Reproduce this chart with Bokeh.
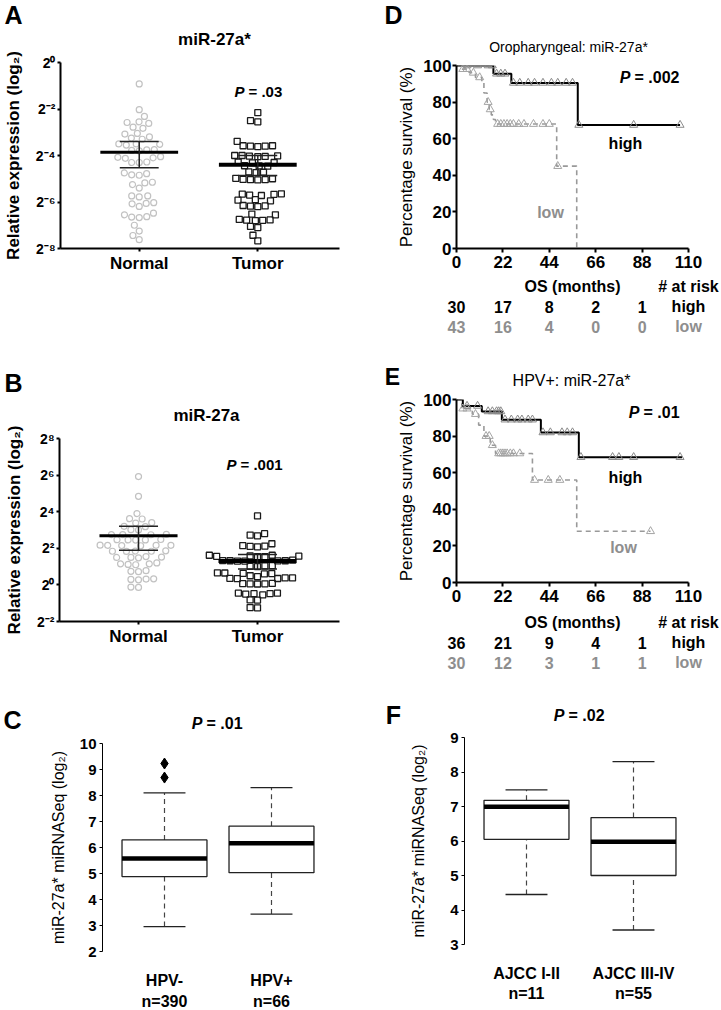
import math
from bokeh.plotting import figure
from bokeh.models import Range1d, FixedTicker, Label
from bokeh.layouts import row, column
from bokeh.embed import file_html
from bokeh.resources import INLINE

FONT = "Liberation Sans"
GRAY_PT = "#c2c2c2"
GRAY_TXT = "#8e8e8e"
GRAY_KM = "#999999"

# ---------------- data ----------------
groups_ab = ["Normal", "Tumor"]
ticks_a = [-8, -6, -4, -2, 0]
tick_labels_a = ["2⁻⁸", "2⁻⁶", "2⁻⁴", "2⁻²", "2⁰"]
normal_a = [-0.92, -2.03, -2.32, -2.55, -2.62, -2.58, -2.78, -2.83, -3.05, -3.08,
            -3.2, -3.25, -3.3, -3.5, -3.52, -3.55, -3.5, -3.75, -3.78, -3.8,
            -3.76, -4.05, -4.1, -4.08, -4.3, -4.12, -4.28, -4.3, -4.75, -4.85,
            -4.83, -4.78, -5.15, -5.25, -5.18, -5.4, -5.74, -5.78, -5.74, -6.03,
            -6.08, -6.06, -6.19, -6.48, -6.55, -6.65, -6.63, -6.67, -7.0, -7.25,
            -7.44, -7.62]
tumor_a = [-2.16, -2.5, -2.55, -3.39, -3.58, -3.6, -3.62, -3.6, -3.58, -4.0,
           -4.03, -4.05, -4.02, -4.04, -4.0, -4.28, -4.3, -4.32, -4.45, -4.46,
           -4.44, -4.7, -4.72, -4.74, -5.0, -5.04, -5.05, -5.04, -5.03, -4.98,
           -5.65, -5.67, -5.7, -5.72, -5.66, -5.92, -5.95, -5.9, -6.15, -6.18,
           -6.17, -6.2, -6.52, -6.55, -6.75, -6.78, -6.8, -6.77, -6.79, -7.05,
           -7.1, -7.43, -7.67]
mean_a = [-3.86, -4.40]
sem_hi_a = [-3.40, -4.00]
sem_lo_a = [-4.53, -4.86]

ticks_b = [-2, 0, 2, 4, 6, 8]
tick_labels_b = ["2⁻²", "2⁰", "2²", "2⁴", "2⁶", "2⁸"]
normal_b = [5.92, 4.84, 3.9, 3.62, 3.6, 3.4, 3.38, 3.2, 3.18, 3.0,
            3.02, 2.75, 2.76, 2.74, 2.75, 2.46, 2.48, 2.45, 2.47, 2.46,
            2.16, 2.15, 2.17, 2.16, 2.14, 2.16, 1.84, 1.85, 1.83, 1.84,
            1.86, 1.5, 1.52, 1.48, 1.5, 1.55, 1.15, 1.1, 1.2, 1.12,
            1.15, 0.74, 0.78, 0.72, 0.32, 0.28, 0.3, 0.33, -0.12, -0.14]
tumor_b = [3.77, 2.8, 2.68, 2.72, 2.15, 2.1, 2.08, 2.12, 2.25, 1.62,
           1.58, 1.55, 1.57, 1.56, 1.55, 1.62, 1.35, 1.32, 1.3, 1.33,
           1.31, 1.32, 1.3, 1.05, 1.02, 1.04, 1.0, 0.65, 0.6, 0.62,
           0.63, 0.66, 0.45, 0.38, 0.36, 0.34, 0.35, 0.38, 0.5, 0.06,
           0.07, 0.05, 0.08, 0.06, -0.45, -0.48, -0.48, -0.55, -0.5, -0.45,
           -0.83, -0.82, -1.25, -1.24]
mean_b = [2.69, 1.30]
sem_hi_b = [3.20, 1.66]
sem_lo_b = [1.89, 0.87]

groups_c = ["HPV-", "HPV+"]
n_c = ["n=390", "n=66"]
q1_c = [4.88, 5.03]
med_c = [5.58, 6.16]
q3_c = [6.29, 6.82]
whislo_c = [2.96, 3.44]
whishi_c = [8.10, 8.30]
outliers_c = [9.23, 8.69]   # HPV- group

groups_f = ["AJCC I-II", "AJCC III-IV"]
n_f = ["n=11", "n=55"]
q1_f = [6.05, 5.00]
med_f = [6.99, 5.98]
q3_f = [7.18, 6.68]
whislo_f = [4.45, 3.42]
whishi_f = [7.48, 8.30]

km_ticks = [0, 22, 44, 66, 88, 110]
risk_times = [0, 22, 44, 66, 88]

d_high_t = [0, 17.5, 26, 57.5, 106]
d_high_s = [100, 95.5, 90.5, 67.5, 67.5]
d_high_cens = [5, 10, 15, 17, 19, 21, 23, 27, 30, 34, 37, 41, 45, 48, 52, 55, 58, 84, 106]
d_low_t = [0, 2, 6, 9, 12, 13, 14.5, 15.5, 16.5, 17.5, 18.5, 47.5, 57]
d_low_s = [100, 98, 96, 93.5, 91, 85, 80, 76, 73, 70.5, 68, 45, 0]
d_low_cens = [3, 5, 8, 11, 15, 16, 19.5, 21, 22.5, 24, 25.5, 27, 29.5, 32, 36.5, 41, 44, 48]
d_risk_high = [30, 17, 8, 2, 1]
d_risk_low = [43, 16, 4, 0, 0]

e_high_t = [0, 3, 12, 21.5, 40, 58, 107]
e_high_s = [100, 96.5, 93.5, 89, 82, 68.5, 68.5]
e_high_cens = [5, 10, 15, 17, 19, 20, 21, 23, 26, 29, 31, 34, 36, 41, 44.5, 50, 52.5, 55, 59, 74, 77, 84, 106]
e_low_t = [0, 2.5, 7.5, 10.5, 13, 16, 18.5, 36, 57, 92]
e_low_s = [100, 95, 92, 86, 80, 75, 70.5, 56, 28, 28]
e_low_cens = [3, 5, 9, 14, 15.5, 17, 20, 21, 22, 23, 24, 25.5, 27, 30, 37, 43.5, 49, 92]
e_risk_high = [36, 21, 9, 4, 1]
e_risk_low = [30, 12, 3, 1, 1]

# ---------------- layout geometry (page pixels) ----------------
LW, RW = 348, 373
COLX = [0, LW]
COLW = [LW, RW]
BOX_X0 = 0.4206
BOX_PPU = 107.0


def base_fig(w, h, xr, yr, bl, br, bt, bb, axes=True):
    kw = {}
    if not axes:
        kw = dict(x_axis_location=None, y_axis_location=None)
    p = figure(width=w, height=h, x_range=Range1d(*xr), y_range=Range1d(*yr),
               output_backend="svg", toolbar_location=None, frame_align=False,
               min_border_left=bl, min_border_right=br,
               min_border_top=bt, min_border_bottom=bb, **kw)
    p.outline_line_color = None
    p.grid.visible = False
    p.background_fill_color = "white"
    p.border_fill_color = "white"
    return p


def main_fig(col, top, h, bl, bt, fw, fh, xr, yr):
    w = COLW[col]
    p = base_fig(w, h, xr, yr, bl, w - bl - fw, bt, h - bt - fh)
    g = (COLX[col] + bl, top + bt + fh)   # frame left, frame bottom (page px)
    return p, g


def strip(col, top, h, xr=(0, 1)):
    w = COLW[col]
    p = base_fig(w, h, xr, (0, 1), 0, 0, 0, 0, axes=False)
    g = (COLX[col], top + h)
    return p, g


def style_axis(ax, size, lw=1.5, tick_out=3, standoff=2):
    ax.axis_line_color = "black"
    ax.axis_line_width = lw
    ax.major_tick_line_color = "black"
    ax.major_tick_line_width = lw
    ax.major_tick_out = tick_out
    ax.major_tick_in = 0
    ax.minor_tick_line_color = None
    ax.major_label_text_font = FONT
    ax.major_label_text_font_size = f"{size}px"
    ax.major_label_text_font_style = "bold"
    ax.major_label_text_color = "black"
    ax.major_label_standoff = standoff
    ax.axis_label_text_font = FONT
    ax.axis_label_text_color = "black"


def txt(p, g, X, Y, text, size, color="black", style="bold", align="center"):
    p.add_layout(Label(x=X - g[0], y=g[1] - Y, x_units="screen", y_units="screen",
                       text=text, text_font=FONT, text_font_size=f"{size}px",
                       text_font_style=style, text_color=color,
                       text_align=align, text_baseline="middle"))


def txt_dx(p, g, xd, Y, text, size, color="black", style="bold"):
    p.add_layout(Label(x=xd, y=g[1] - Y, x_units="data", y_units="screen",
                       text=text, text_font=FONT, text_font_size=f"{size}px",
                       text_font_style=style, text_color=color,
                       text_align="center", text_baseline="middle"))


def pval(p, g, X, Y, rest, size):
    txt(p, g, X - 1, Y, "P", size, style="bold italic", align="right")
    txt(p, g, X + 3, Y, rest, size, align="left")


def swarm(vals, ppu_y, ppu_x, d):
    order = sorted(range(len(vals)), key=lambda i: vals[i])
    placed = []
    offs = [0.0] * len(vals)
    for i in order:
        y = vals[i] * ppu_y
        near = [(x0, y0) for (x0, y0) in placed if abs(y0 - y) < d]
        cands = [0.0]
        for x0, y0 in near:
            dx = math.sqrt(d * d - (y - y0) ** 2)
            cands += [x0 + dx, x0 - dx]
        cands.sort(key=lambda c: (abs(c), c))
        chosen = 0.0
        for c in cands:
            if all((c - x0) ** 2 + (y - y0) ** 2 >= d * d - 1e-6 for x0, y0 in near):
                chosen = c
                break
        placed.append((chosen, y))
        offs[i] = chosen / ppu_x
    return offs


def surv_at(t, times, survs):
    s = survs[0]
    for ti, si in zip(times, survs):
        if ti <= t:
            s = si
    return s


# ---------------- scatter panels (A, B) ----------------
def scatter_panel(top, h, bt, ticks, labels, yr, normal, tumor, mean, hi, lo, p_xy, p_rest):
    xr = (0.336, 2.689)
    p, g = main_fig(0, top, h, 59, bt, 280, 186, xr, yr)
    ppu_y = 186 / (yr[1] - yr[0])
    ppu_x = 280 / (xr[1] - xr[0])
    xs_n = [1 + o for o in swarm(normal, ppu_y, ppu_x, 7.6)]
    xs_t = [2 + o for o in swarm(tumor, ppu_y, ppu_x, 7.4)]
    p.scatter(xs_n, normal, marker="circle", size=6, fill_color=None,
              line_color=GRAY_PT, line_width=1.2)
    p.scatter(xs_t, tumor, marker="square", size=6, fill_color=None,
              line_color="#1a1a1a", line_width=1.3)
    xc = [1, 2]
    mw, cw = 0.328, 0.164
    p.segment([x - mw for x in xc], mean, [x + mw for x in xc], mean,
              line_color="black", line_width=[3, 4])
    p.segment(xc, lo, xc, hi, line_color="#222222", line_width=1.5)
    p.segment([x - cw for x in xc], hi, [x + cw for x in xc], hi, line_color="#222222", line_width=1.5)
    p.segment([x - cw for x in xc], lo, [x + cw for x in xc], lo, line_color="#222222", line_width=1.5)

    style_axis(p.xaxis[0], 17, lw=2, tick_out=3, standoff=2)
    p.xaxis.ticker = FixedTicker(ticks=[1, 2])
    p.xaxis.major_label_overrides = {1: groups_ab[0], 2: groups_ab[1]}
    style_axis(p.yaxis[0], 14, lw=2, tick_out=3, standoff=2)
    p.yaxis.ticker = FixedTicker(ticks=ticks)
    p.yaxis.major_label_overrides = {t: l for t, l in zip(ticks, labels)}
    p.yaxis.axis_label = "Relative expression (log₂)"
    p.yaxis.axis_label_text_font_size = "17px"
    p.yaxis.axis_label_text_font_style = "bold"
    p.yaxis.axis_label_standoff = 10
    pval(p, g, p_xy[0], p_xy[1], p_rest, 15)
    return p


# ---------------- KM panels (D, E) ----------------
def km_panel(top, h, bt, p_xy, p_rest, ht, hs, hc, lt, ls, lc, hi_xy, lo_xy):
    p, g = main_fig(1, top, h, 108, bt, 232, 183, (0, 110), (0, 100))
    p.step(lt, ls, mode="after", line_color=GRAY_KM, line_width=1.6, line_dash="5 4")
    p.step(ht, hs, mode="after", line_color="black", line_width=2)
    p.scatter(lc, [surv_at(t, lt, ls) for t in lc], marker="triangle", size=8,
              fill_color=None, line_color="#a5a5a5", line_width=1)
    p.scatter(hc, [surv_at(t, ht, hs) for t in hc], marker="triangle", size=8,
              fill_color=None, line_color="#8a8a8a", line_width=1)

    style_axis(p.xaxis[0], 17, lw=2, tick_out=4, standoff=3)
    p.xaxis.ticker = FixedTicker(ticks=km_ticks)
    style_axis(p.yaxis[0], 17, lw=2, tick_out=4, standoff=1)
    p.yaxis.ticker = FixedTicker(ticks=[0, 20, 40, 60, 80, 100])
    p.yaxis.axis_label = "Percentage survival (%)"
    p.yaxis.axis_label_text_font_size = "17px"
    p.yaxis.axis_label_text_font_style = "normal"
    p.yaxis.axis_label_standoff = 4

    pval(p, g, p_xy[0], p_xy[1], p_rest, 16)
    txt(p, g, hi_xy[0], hi_xy[1], "high", 16)
    txt(p, g, lo_xy[0], lo_xy[1], "low", 16, color=GRAY_TXT)
    return p


def risk_rows(p, g, rows_y, rh, rl):
    txt_dx(p, g, 55, rows_y[0], "OS (months)", 16)
    txt_dx(p, g, 110, rows_y[0], "# at risk", 16)
    for t, n in zip(risk_times, rh):
        txt_dx(p, g, t, rows_y[1], str(n), 16)
    for t, n in zip(risk_times, rl):
        txt_dx(p, g, t, rows_y[2], str(n), 16, color=GRAY_TXT)
    txt_dx(p, g, 110, rows_y[1], "high", 16)
    txt_dx(p, g, 110, rows_y[2], "low", 16, color=GRAY_TXT)


# ---------------- box panels (C, F) ----------------
def box_panel(col, top, h, bl, bt, fw, fh, yr, q1, med, q3, wlo, whi, outl, label_standoff):
    p, g = main_fig(col, top, h, bl, bt, fw, fh, (BOX_X0, BOX_X0 + fw / BOX_PPU), yr)
    xc = [1, 2]
    bw, cw = 0.397, 0.196
    p.segment(xc, q3, xc, whi, line_color="#444444", line_width=1.2, line_dash="5 4")
    p.segment(xc, wlo, xc, q1, line_color="#444444", line_width=1.2, line_dash="5 4")
    p.segment([x - cw for x in xc], whi, [x + cw for x in xc], whi, line_color="#222222", line_width=1.3)
    p.segment([x - cw for x in xc], wlo, [x + cw for x in xc], wlo, line_color="#222222", line_width=1.3)
    p.vbar(x=xc, width=2 * bw, bottom=q1, top=q3, fill_color="white",
           line_color="#222222", line_width=1.3)
    p.segment([x - bw for x in xc], med, [x + bw for x in xc], med,
              line_color="black", line_width=4.5, line_cap="butt")
    if outl:
        p.scatter([1] * len(outl), outl, marker="diamond", size=11, color="black")

    p.xaxis.visible = False
    style_axis(p.yaxis[0], 15, lw=1, tick_out=3, standoff=3)
    p.yaxis.ticker = FixedTicker(ticks=list(range(int(yr[0]), int(yr[1]) + 1)))
    p.yaxis.axis_label = "miR-27a* miRNASeq (log₂)"
    p.yaxis.axis_label_text_font_size = "16px"
    p.yaxis.axis_label_text_font_style = "normal"
    p.yaxis.axis_label_standoff = label_standoff
    return p


def box_labels(col, top, h, bl, groups, ns, label_y):
    x_start = BOX_X0 - bl / BOX_PPU
    s, g = strip(col, top, h, (x_start, x_start + COLW[col] / BOX_PPU))
    for x, gname, n in zip([1, 2], groups, ns):
        txt_dx(s, g, x, label_y[0], gname, 16)
        txt_dx(s, g, x, label_y[1], n, 16)
    return s


# ===== left column =====
s1, g = strip(0, 0, 48)
txt(s1, g, 13, 14.5, "A", 25)
txt(s1, g, 214, 38.5, "miR-27a*", 17)

pA = scatter_panel(48, 228, 14, ticks_a, tick_labels_a, (-8, 0), normal_a, tumor_a,
                   mean_a, sem_hi_a, sem_lo_a, (244, 91), "= .03")

s2, g = strip(0, 276, 148)
txt(s2, g, 13, 382, "B", 25)
txt(s2, g, 206, 414.5, "miR-27a", 17)

pB = scatter_panel(424, 224, 14, ticks_b, tick_labels_b, (-2, 8), normal_b, tumor_b,
                   mean_b, sem_hi_b, sem_lo_b, (237, 467), "= .001")

s3, g = strip(0, 648, 86)
txt(s3, g, 12, 719.5, "C", 25)
pval(s3, g, 203, 722.5, "= .01", 16)

pC = box_panel(0, 734, 228, 102, 9, 240, 208, (2, 10), q1_c, med_c, q3_c,
               whislo_c, whishi_c, outliers_c, 10)
s4 = box_labels(0, 962, 48, 102, groups_c, n_c, (980, 1000.5))

# ===== right column =====
KM_PPU = 232 / 110.0
km_strip_xr = (-108 / KM_PPU, 110 + 33 / KM_PPU)

t1, g = strip(1, 0, 55)
txt(t1, g, 393, 14.5, "D", 25)
txt(t1, g, 568, 46.5, "Oropharyngeal: miR-27a*", 14, style="normal")

pD = km_panel(55, 221, 10, (631, 77), "= .002",
              d_high_t, d_high_s, d_high_cens, d_low_t, d_low_s, d_low_cens,
              (625, 143), (550, 212))

t2, g = strip(1, 276, 113, km_strip_xr)
risk_rows(t2, g, (285.5, 306, 326), d_risk_high, d_risk_low)
txt(t2, g, 392, 376, "E", 23)
txt(t2, g, 571, 379.5, "HPV+: miR-27a*", 16, style="normal")

pE = km_panel(389, 223, 10, (640, 412), "= .01",
              e_high_t, e_high_s, e_high_cens, e_low_t, e_low_s, e_low_cens,
              (625, 477), (623, 547))

t3, g = strip(1, 612, 116, km_strip_xr)
risk_rows(t3, g, (622, 642, 662), e_risk_high, e_risk_low)
txt(t3, g, 393, 714, "F", 25)
pval(t3, g, 565, 715, "= .02", 16)

pF = box_panel(1, 728, 234, 116, 9, 229, 207, (3, 9), q1_f, med_f, q3_f,
               whislo_f, whishi_f, [], 20)
t4 = box_labels(1, 962, 48, 116, groups_f, n_f, (973, 993))

left = column(s1, pA, s2, pB, s3, pC, s4)
right = column(t1, pD, t2, pE, t3, pF, t4)
layout = row(left, right)
open("out.html", "w").write(file_html(layout, INLINE))
